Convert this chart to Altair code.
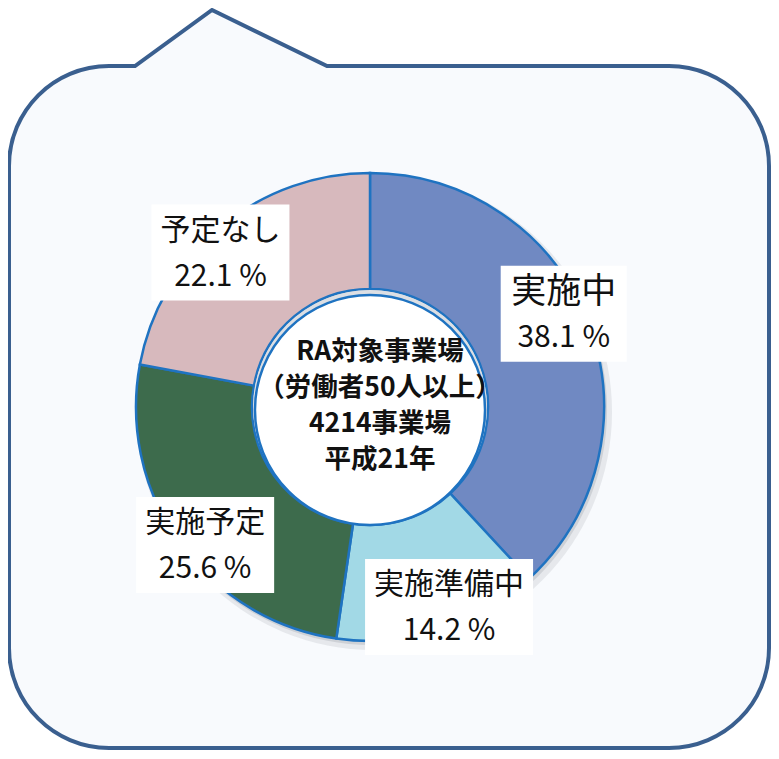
import math
import altair as alt
import pandas as pd

# ---- data ----
categories = ["実施中", "実施準備中", "実施予定", "予定なし"]
values = [38.1, 14.2, 25.6, 22.1]
colors = ["#7089C2", "#A2D9E6", "#3D6B4C", "#D7B9BD"]
pct_labels = ["38.1 %", "14.2 %", "25.6 %", "22.1 %"]
center_lines = ["RA対象事業場", "（労働者50人以上）", "4214事業場", "平成21年"]

# ---- layout (view pixels; page margin is 8px) ----
W, H = 763, 743
OFF = 8
CX, CY = 370 - OFF, 407 - OFF
R_OUT, R_IN = 234, 118
R_LAB = 215
LAB_ROT = -0.075  # label angle offset (radians)
FONT = "Noto Sans CJK JP"
BLUE = "#1F73C1"

df = pd.DataFrame({
    "category": categories,
    "value": values,
    "order": list(range(len(categories))),
    "pct": pct_labels,
})

# speech-bubble background
L, R, T, B, r = 1, W - 2, 58, H - 3, 100
bubble_path = (
    f"M{L + r},{T} L127,{T} L204,2 L319,{T} L{R - r},{T} "
    f"A{r},{r} 0 0 1 {R},{T + r} L{R},{B - r} "
    f"A{r},{r} 0 0 1 {R - r},{B} L{L + r},{B} "
    f"A{r},{r} 0 0 1 {L},{B - r} L{L},{T + r} "
    f"A{r},{r} 0 0 1 {L + r},{T} Z"
)
one = alt.Data(values=[{"k": 1}])

bubble = alt.Chart(one).mark_point(
    shape=bubble_path, size=4, filled=True, fill="#F8FAFD",
    stroke="#3A5F8F", strokeWidth=4, opacity=1, fillOpacity=1, strokeOpacity=1,
).encode(x=alt.value(0), y=alt.value(0))

TWO_PI = 2 * math.pi

shadow1 = alt.Chart(one).mark_arc(
    theta=0, theta2=TWO_PI, outerRadius=R_OUT + 4, innerRadius=0,
    fill="#AEB4BC", opacity=0.25,
).encode(x=alt.value(CX + 4), y=alt.value(CY + 5))
shadow2 = alt.Chart(one).mark_arc(
    theta=0, theta2=TWO_PI, outerRadius=R_OUT + 1, innerRadius=0,
    fill="#A0A7B0", opacity=0.35,
).encode(x=alt.value(CX + 2), y=alt.value(CY + 3))

donut = alt.Chart(df).mark_arc(
    outerRadius=R_OUT, innerRadius=R_IN, stroke=BLUE, strokeWidth=2.5,
).encode(
    theta=alt.Theta("value:Q", stack=True),
    color=alt.Color("category:N", scale=alt.Scale(domain=categories, range=colors), legend=None),
    order=alt.Order("order:Q"),
    x=alt.value(CX), y=alt.value(CY),
)

hole_shadow = alt.Chart(one).mark_arc(
    theta=0, theta2=TWO_PI, outerRadius=R_IN - 1, innerRadius=0, fill="#DCDFE4",
).encode(x=alt.value(CX), y=alt.value(CY))

white_circle = alt.Chart(one).mark_arc(
    theta=0, theta2=TWO_PI, outerRadius=115, innerRadius=0,
    fill="#FFFFFF", stroke=BLUE, strokeWidth=2.5,
).encode(x=alt.value(CX), y=alt.value(CY + 3))

base_lab = alt.Chart(df).transform_window(
    cum="sum(value)", sort=[alt.SortField("order")], frame=[None, 0]
).transform_joinaggregate(
    total="sum(value)"
).transform_calculate(
    ang=f"2*PI*(datum.cum - datum.value/2)/datum.total + ({LAB_ROT})",
    lx=f"{CX} + {R_LAB}*sin(datum.ang)",
    ly=f"{CY} - {R_LAB}*cos(datum.ang)",
    big="datum.order == 0 ? 1 : 0",
    hw="(max(length(datum.category)*(datum.big ? 36 : 30), 100) + 18)/2",
    bx="datum.lx - datum.hw",
    bx2="datum.lx + datum.hw",
    by="datum.ly - 48",
    by2="datum.ly + 48",
)

boxes = base_lab.mark_rect(fill="#FFFFFF").encode(
    x=alt.X("bx:Q", scale=None, axis=None),
    x2="bx2:Q",
    y=alt.Y("by:Q", scale=None, axis=None),
    y2="by2:Q",
)

names = base_lab.mark_text(
    font=FONT, color="#111111", dy=-22, baseline="middle", align="center",
).encode(
    x=alt.X("lx:Q", scale=None, axis=None),
    y=alt.Y("ly:Q", scale=None, axis=None),
    text="category:N",
    size=alt.condition("datum.big == 1", alt.value(35), alt.value(30)),
)

pcts = base_lab.mark_text(
    font=FONT, color="#111111", dy=24, baseline="middle", align="center", fontSize=30,
).encode(
    x=alt.X("lx:Q", scale=None, axis=None),
    y=alt.Y("ly:Q", scale=None, axis=None),
    text="pct:N",
)

center = alt.Chart(one).mark_text(
    text=center_lines, font=FONT, fontSize=26.5, fontWeight="bold", color="#111111",
    lineHeight=36, align="center", baseline="middle",
).encode(x=alt.value(380 - OFF), y=alt.value(352 - OFF))

chart = alt.layer(
    bubble, shadow1, shadow2, donut, hole_shadow, white_circle, boxes, names, pcts, center
).properties(
    width=W, height=H, autosize=alt.AutoSizeParams(type="none"), padding=0,
).configure(background="#FFFFFF").configure_view(stroke=None)

chart.save("out.html", embed_options={"renderer": "svg", "actions": False})
